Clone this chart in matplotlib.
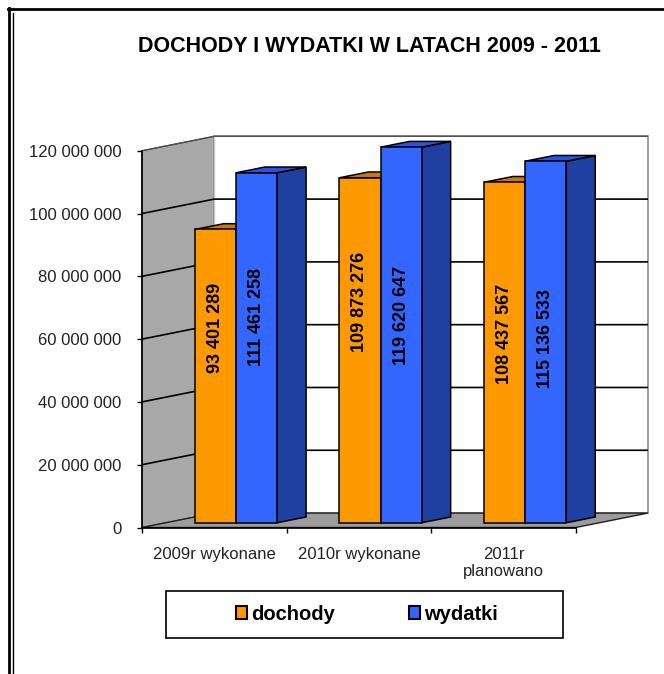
import matplotlib
matplotlib.use('Agg')
import matplotlib.pyplot as plt
from matplotlib.patches import Polygon, Patch, Rectangle
from matplotlib.lines import Line2D
from matplotlib.ticker import FuncFormatter

plt.rcParams['font.family'] = ['Liberation Sans', 'DejaVu Sans']

# data
categories = ['2009r wykonane', '2010r wykonane', '2011r\nplanowano']
series_names = ['dochody', 'wydatki']
dochody = [93401289, 109873276, 108437567]
wydatki = [111461258, 119620647, 115136533]
# height (in value units) where each rotated value label sits
label_pos_dochody = [62.0e6, 70.3e6, 60.0e6]
label_pos_wydatki = [65.4e6, 66.1e6, 58.8e6]
yticks = [0, 20e6, 40e6, 60e6, 80e6, 100e6, 120e6]
title = 'DOCHODY I WYDATKI W LATACH 2009 - 2011'

front_colors = ['#FF9900', '#3366FF']
top_colors = ['#C67A00', '#2B52D8']
side_colors = ['#B06A00', '#1F40A0']

# fake 3d: oblique offset for one unit of depth (in data units)
DX, DY = 0.5, 4.6e6
ymax = yticks[-1]
ncat = len(categories)


def proj(x, y, z):
    return (x + z * DX, y + z * DY)


def face(ax, pts, fc, ec='black', lw=1.1, zorder=2):
    ax.add_patch(Polygon([proj(*p) for p in pts], closed=True, facecolor=fc,
                         edgecolor=ec, lw=lw, joinstyle='miter', clip_on=False,
                         zorder=zorder))


def line(ax, pts, zorder=1, **kw):
    xy = [proj(*p) for p in pts]
    ax.plot([p[0] for p in xy], [p[1] for p in xy], clip_on=False,
            solid_capstyle='butt', zorder=zorder, **kw)


fig = plt.figure(figsize=(6.64, 6.74), dpi=100)
ax = fig.add_axes([142 / 664, 146.5 / 674, 506 / 664, 391.2 / 674])
ax.set_xlim(0, ncat + DX)
ax.set_ylim(0, ymax + DY)
ax.patch.set_visible(False)

# walls and floor
face(ax, [(0, 0, 0), (0, 0, 1), (0, ymax, 1), (0, ymax, 0)], '#A8A8A8', ec='#404040', lw=0.8, zorder=0.5)
face(ax, [(0, 0, 1), (ncat, 0, 1), (ncat, ymax, 1), (0, ymax, 1)], 'white', ec='#8C8C8C', lw=1.2, zorder=0.5)
face(ax, [(0, 0, 0), (ncat, 0, 0), (ncat, 0, 1), (0, 0, 1)], '#9C9C9C', ec='#202020', lw=1.0, zorder=0.6)
line(ax, [(0, 0, 1), (0, ymax, 1)], color='#C8C8C8', lw=1.0, zorder=0.7)

for v in yticks[1:-1]:
    line(ax, [(0, v, 0), (0, v, 1), (ncat, v, 1)], color='black', lw=1.2, zorder=0.8)
line(ax, [(0, ymax, 0), (0, ymax, 1), (ncat, ymax, 1)], color='#505050', lw=1.0, zorder=0.8)

# bars
bw = 0.285
x_start = 0.2
z0, z1 = 0.33, 0.73
for s, (vals, lpos) in enumerate([(dochody, label_pos_dochody), (wydatki, label_pos_wydatki)]):
    for i, v in enumerate(vals):
        x0 = i + x_start + s * bw
        x1 = x0 + bw
        face(ax, [(x1, 0, z0), (x1, 0, z1), (x1, v, z1), (x1, v, z0)], side_colors[s])
        face(ax, [(x0, v, z0), (x1, v, z0), (x1, v, z1), (x0, v, z1)], top_colors[s])
        face(ax, [(x0, 0, z0), (x1, 0, z0), (x1, v, z0), (x0, v, z0)], front_colors[s])
        tx, ty = proj((x0 + x1) / 2, lpos[i], z0)
        ax.text(tx, ty, f'{v:,}'.replace(',', ' '), rotation=90, ha='center',
                va='center', fontsize=13, fontweight='bold', color='black', zorder=4)

# axes
for sp in ['top', 'right']:
    ax.spines[sp].set_visible(False)
ax.spines['left'].set_bounds(0, ymax)
ax.spines['bottom'].set_bounds(0, ncat)
for sp in ['left', 'bottom']:
    ax.spines[sp].set_linewidth(1.2)
    ax.spines[sp].set_zorder(5)

ax.set_yticks(yticks)
ax.yaxis.set_major_formatter(FuncFormatter(lambda v, p: f'{int(v):,}'.replace(',', ' ')))
ax.tick_params(axis='y', direction='out', length=3.6, width=1.0, pad=11,
               labelsize=12, labelcolor='#222222')

ax.set_xticks(range(ncat + 1))
ax.set_xticklabels([])
ax.set_xticks([i + 0.5 for i in range(ncat)], minor=True)
ax.set_xticklabels(categories, minor=True)
ax.tick_params(axis='x', which='major', direction='out', length=3.6, width=1.0)
ax.tick_params(axis='x', which='minor', length=0, pad=14, labelsize=12, labelcolor='#222222')

# title
fig.text(369 / 664, 1 - 46.7 / 674, title, ha='center', va='center',
         fontsize=15.5, fontweight='bold')

# legend
handles = [Patch(facecolor=c, edgecolor='black', lw=1.5) for c in front_colors]
fig.legend(handles, series_names, loc='center', bbox_to_anchor=(367 / 664, 1 - 614.5 / 674),
           ncol=2, frameon=False, prop={'weight': 'bold', 'size': 14.5},
           handlelength=0.52, handleheight=0.62, handletextpad=0.2, columnspacing=3.7)
fig.add_artist(Rectangle((166 / 664, 1 - 638.3 / 674), (562.7 - 166) / 664, (638.3 - 590.7) / 674,
                         transform=fig.transFigure, fill=False, edgecolor='black', lw=1.2))

# page frame
fig.add_artist(Line2D([8.5 / 664, 8.5 / 664], [0, 1 - 8 / 674], transform=fig.transFigure,
                      color='black', lw=2))
fig.add_artist(Line2D([8 / 664, 1], [1 - 8.5 / 674, 1 - 8.5 / 674], transform=fig.transFigure,
                      color='black', lw=2))
fig.add_artist(Line2D([12.5 / 664, 12.5 / 664], [0, 1 - 13 / 674], transform=fig.transFigure,
                      color='black', lw=1))

fig.savefig('out.png', dpi=100)
